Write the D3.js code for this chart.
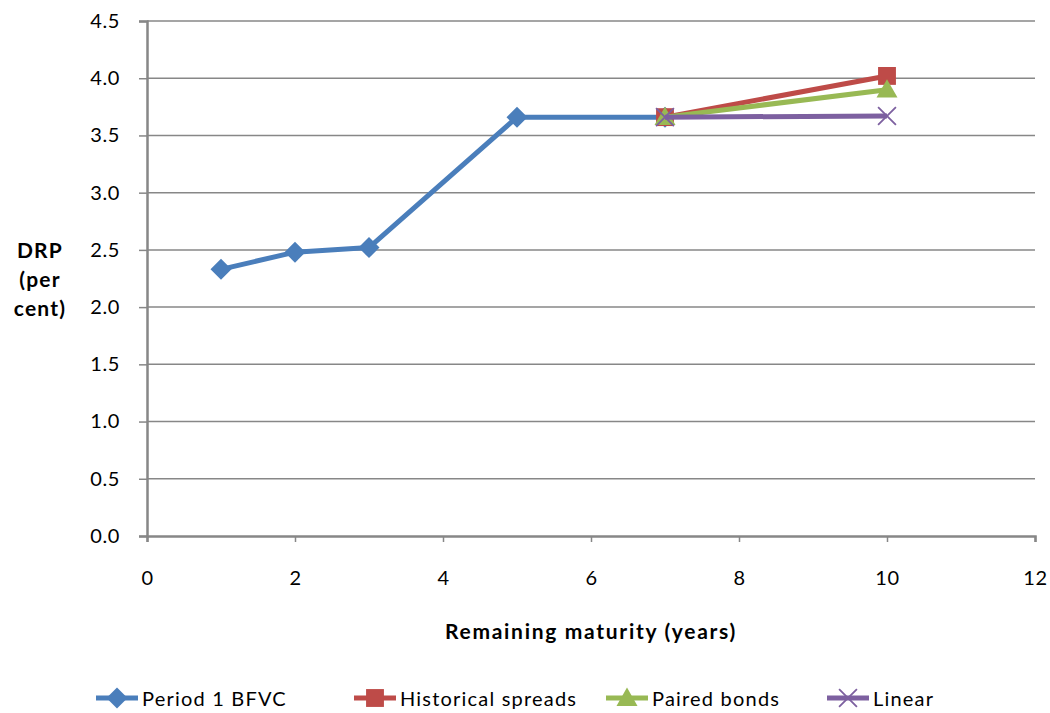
<!DOCTYPE html>
<html><head><meta charset="utf-8">
<script src="https://cdn.jsdelivr.net/npm/d3@7"></script>
<style>body{margin:0;background:#fff}svg{display:block}text{font-family:Lato,"Open Sans",sans-serif;fill:#000}</style>
</head><body>
<svg id="c" width="1050" height="713"></svg>
<script>
const seriesNames = ["Period 1 BFVC","Historical spreads","Paired bonds","Linear"];
const period1X = [1,2,3,5,7];
const period1Y = [2.33,2.48,2.52,3.66,3.66];
const historicalX = [7,10];
const historicalY = [3.66,4.02];
const pairedX = [7,10];
const pairedY = [3.66,3.90];
const linearX = [7,10];
const linearY = [3.66,3.67];
const xTicks = [0,2,4,6,8,10,12];
const yTicks = [0,0.5,1,1.5,2,2.5,3,3.5,4,4.5];

const colors = ["#4a7ebb","#be4b48","#98b954","#7d60a0"];
const shapes = ["diamond","square","triangle","x"];
const svg = d3.select("#c");
const x = d3.scaleLinear().domain([0,12]).range([147,1035]);
const y = d3.scaleLinear().domain([0,4.5]).range([536,21]);

// gridlines
svg.append("g").selectAll("line").data(yTicks.filter(d=>d>0)).join("line")
  .attr("x1",x(0)).attr("x2",x(12)).attr("y1",d=>y(d)).attr("y2",d=>y(d))
  .attr("stroke","#878787").attr("stroke-width",1.5);

const yAxis = svg.append("g").attr("transform",`translate(${x(0)},0)`)
  .call(d3.axisLeft(y).tickValues(yTicks).tickFormat(d3.format(".1f")).tickSize(8).tickPadding(19));
const xAxis = svg.append("g").attr("transform",`translate(0,${y(0)})`)
  .call(d3.axisBottom(x).tickValues(xTicks).tickFormat(d3.format("d")).tickSize(6).tickPadding(29));
[yAxis,xAxis].forEach(a=>{
  a.select(".domain").attr("stroke","#878787").attr("stroke-width",2.5);
  a.selectAll(".tick line").attr("stroke","#878787").attr("stroke-width",1.5);
  a.selectAll("text").attr("font-size",20).attr("letter-spacing",0.6).attr("font-family","Lato,'Open Sans',sans-serif").attr("fill","#000");
});

function marker(g, shape, color, cx, cy, s){
  if(shape==="diamond"){
    g.append("path").attr("d",`M${cx},${cy-s}L${cx+s},${cy}L${cx},${cy+s}L${cx-s},${cy}Z`).attr("fill",color);
  } else if(shape==="square"){
    g.append("rect").attr("x",cx-s*0.85).attr("y",cy-s*0.85).attr("width",s*1.7).attr("height",s*1.7).attr("fill",color);
  } else if(shape==="triangle"){
    g.append("path").attr("d",`M${cx},${cy-s}L${cx+s},${cy+s*0.75}L${cx-s},${cy+s*0.75}Z`).attr("fill",color);
  } else {
    g.append("path").attr("d",`M${cx-s*0.85},${cy-s*0.85}L${cx+s*0.85},${cy+s*0.85}M${cx+s*0.85},${cy-s*0.85}L${cx-s*0.85},${cy+s*0.85}`)
      .attr("stroke",color).attr("stroke-width",1.8).attr("fill","none");
  }
}

const series = [[period1X,period1Y],[historicalX,historicalY],[pairedX,pairedY],[linearX,linearY]];
const line = d3.line().x(d=>x(d[0])).y(d=>y(d[1]));
series.forEach(([xs,ys],i)=>{
  const pts = xs.map((v,j)=>[v,ys[j]]);
  const g = svg.append("g");
  g.append("path").datum(pts).attr("d",line).attr("fill","none").attr("stroke",colors[i]).attr("stroke-width",5).attr("stroke-linejoin","round");
  pts.forEach(p=>marker(g,shapes[i],colors[i],x(p[0]),y(p[1]),10.5));
});

// axis titles
svg.append("text").attr("x",591).attr("y",639).attr("text-anchor","middle").attr("font-weight","bold").attr("font-size",21).attr("letter-spacing",1.7).text("Remaining maturity (years)");
const yt = svg.append("text").attr("text-anchor","middle").attr("font-weight","bold").attr("font-size",21).attr("letter-spacing",1.2);
["DRP","(per","cent)"].forEach((t,i)=>yt.append("tspan").attr("x",40).attr("y",258+i*29).text(t));

// legend
const legTextX = [142,400,652,873];
const lg = svg.append("g");
seriesNames.forEach((n,i)=>{
  const g = lg.append("g");
  const x0 = legTextX[i]-46;
  g.append("line").attr("x1",x0).attr("x2",x0+42).attr("y1",698).attr("y2",698).attr("stroke",colors[i]).attr("stroke-width",5);
  marker(g,shapes[i],colors[i],x0+21,698,10.5);
  g.append("text").attr("x",legTextX[i]).attr("y",706).attr("font-size",20).attr("letter-spacing",1.2).text(n);
});
</script>
</body></html>
